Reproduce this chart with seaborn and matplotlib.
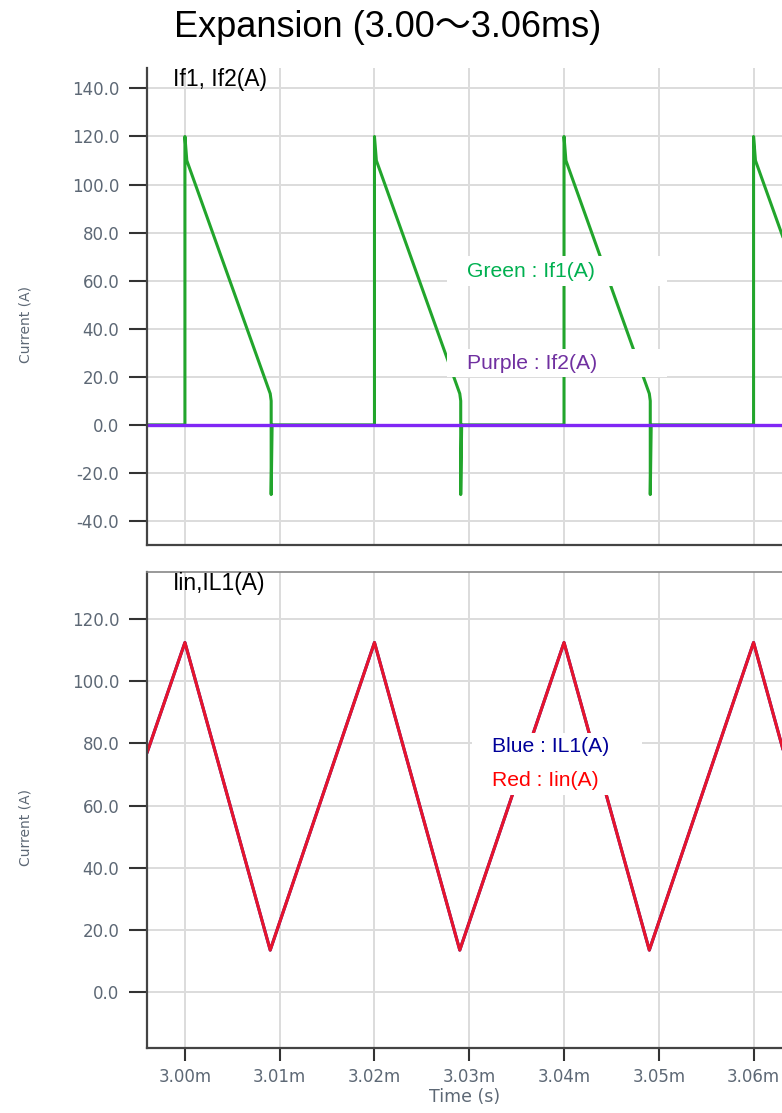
"""Expansion view of If1/If2 and Iin/IL1 currents (3.00-3.06 ms)."""

import matplotlib
matplotlib.use("Agg")
import matplotlib.pyplot as plt
from matplotlib.patches import Rectangle
from matplotlib.ticker import FuncFormatter, MultipleLocator
import pandas as pd
import seaborn as sns

# --- data (time in ms) -------------------------------------------------------
if1_t = [2.9960, 3.0000, 3.0000, 3.0002, 3.0090, 3.0091, 3.0091, 3.0092,
         3.0200, 3.0200, 3.0202, 3.0290, 3.0291, 3.0291, 3.0292,
         3.0400, 3.0400, 3.0402, 3.0490, 3.0491, 3.0491, 3.0492,
         3.0600, 3.0600, 3.0602, 3.0632]
if1_v = [0.0, 0.0, 120.0, 110.0, 13.0, 10.0, -29.0, 0.0,
         0.0, 120.0, 110.0, 13.0, 10.0, -29.0, 0.0,
         0.0, 120.0, 110.0, 13.0, 10.0, -29.0, 0.0,
         0.0, 120.0, 110.0, 77.0]
if2_t = [2.9960, 3.0632]
if2_v = [0.0, 0.0]

iin_t = [2.9960, 3.0000, 3.0090, 3.0200, 3.0290, 3.0400, 3.0490, 3.0600, 3.0632]
iin_v = [77.0, 112.5, 13.5, 112.5, 13.5, 112.5, 13.5, 112.5, 77.0]
il1_t = iin_t
il1_v = iin_v

x_ticks = [3.00, 3.01, 3.02, 3.03, 3.04, 3.05, 3.06]

GREEN = "#22a52c"
PURPLE = "#8026f5"
BLUE = "#1a1aa8"
RED = "#e8142c"
TICK_GRAY = "#5d6875"
TICK_FS = 12

sns.set_style("whitegrid", {"grid.color": "#dcdcdc", "axes.edgecolor": "#444444"})
plt.rcParams["font.family"] = ["Liberation Sans", "Noto Sans CJK JP"]

fig = plt.figure(figsize=(7.82, 11.13), dpi=100)
ax_top = fig.add_axes([0.188, 0.5103, 0.812, 0.4286])
ax_bot = fig.add_axes([0.188, 0.0584, 0.812, 0.4277])

df_if1 = pd.DataFrame({"t": if1_t, "v": if1_v})
df_if2 = pd.DataFrame({"t": if2_t, "v": if2_v})
df_iin = pd.DataFrame({"t": iin_t, "v": iin_v})
df_il1 = pd.DataFrame({"t": il1_t, "v": il1_v})

sns.lineplot(data=df_if1, x="t", y="v", sort=False, estimator=None,
             color=GREEN, lw=2.2, ax=ax_top)
sns.lineplot(data=df_if2, x="t", y="v", sort=False, estimator=None,
             color=PURPLE, lw=2.4, ax=ax_top)
sns.lineplot(data=df_il1, x="t", y="v", sort=False, estimator=None,
             color=BLUE, lw=2.2, ax=ax_bot)
sns.lineplot(data=df_iin, x="t", y="v", sort=False, estimator=None,
             color=RED, lw=2.2, ax=ax_bot)

ax_top.set_ylim(-50, 148.5)
ax_bot.set_ylim(-18, 135.2)

for ax in (ax_top, ax_bot):
    ax.set_xlim(2.996, 3.063)
    ax.set_xticks(x_ticks)
    ax.yaxis.set_major_locator(MultipleLocator(20))
    ax.yaxis.set_major_formatter(FuncFormatter(lambda v, _: f"{v:.1f}"))
    ax.grid(True, lw=1.4, color="#dcdcdc")
    ax.set_axisbelow(True)
    for side in ("left", "bottom"):
        ax.spines[side].set_color("#444444")
        ax.spines[side].set_linewidth(1.6)
    ax.spines["right"].set_visible(False)
    ax.tick_params(axis="y", left=True, length=13, width=1.5, color="#333333",
                   labelsize=TICK_FS, labelcolor=TICK_GRAY, pad=7)
    for lab in ax.get_yticklabels():
        lab.set_family("DejaVu Sans")
    ax.set_ylabel("Current (A)", color=TICK_GRAY, fontsize=10,
                  family="DejaVu Sans")
    ax.yaxis.set_label_coords(-0.181, 0.463)

ax_top.spines["top"].set_visible(False)
ax_bot.spines["top"].set_color("#888888")
ax_bot.spines["top"].set_linewidth(1.2)

ax_top.tick_params(axis="x", bottom=False, labelbottom=False)
ax_top.set_xlabel("")
ax_bot.xaxis.set_major_formatter(FuncFormatter(lambda v, _: f"{v:.2f}m"))
ax_bot.tick_params(axis="x", bottom=True, length=9.5, width=1.5, color="#333333",
                   labelsize=TICK_FS, labelcolor=TICK_GRAY, pad=5)
for lab in ax_bot.get_xticklabels():
    lab.set_family("DejaVu Sans")
ax_bot.set_xlabel("Time (s)", color=TICK_GRAY, fontsize=12.5,
                  family="DejaVu Sans", labelpad=1)

# panel captions
ax_top.text(0.041, 0.975, "If1, If2(A)", transform=ax_top.transAxes,
            fontsize=16.5, color="black", va="center", ha="left")
ax_bot.text(0.041, 0.975, "Iin,IL1(A)", transform=ax_bot.transAxes,
            fontsize=16.5, color="black", va="center", ha="left")

# legend boxes
for ax, (x0, y0, w, h) in ((ax_top, (0.472, 0.543, 0.347, 0.063)),
                           (ax_top, (0.472, 0.352, 0.347, 0.059)),
                           (ax_bot, (0.512, 0.531, 0.268, 0.131))):
    ax.add_patch(Rectangle((x0, y0), w, h, transform=ax.transAxes,
                           facecolor="white", edgecolor="none", zorder=5))

ax_top.text(0.504, 0.574, "Green : If1(A)", transform=ax_top.transAxes,
            fontsize=15.2, color="#00b050", va="center", zorder=6)
ax_top.text(0.504, 0.380, "Purple : If2(A)", transform=ax_top.transAxes,
            fontsize=15.2, color="#7030a0", va="center", zorder=6)
ax_bot.text(0.543, 0.634, "Blue : IL1(A)", transform=ax_bot.transAxes,
            fontsize=15.2, color="#000099", va="center", zorder=6)
ax_bot.text(0.543, 0.561, "Red : Iin(A)", transform=ax_bot.transAxes,
            fontsize=15.2, color="#ff0000", va="center", zorder=6)

fig.text(0.496, 0.975, "Expansion (3.00～3.06ms)", ha="center", va="center",
         fontsize=26, color="black")

fig.savefig("out.png", dpi=100)
